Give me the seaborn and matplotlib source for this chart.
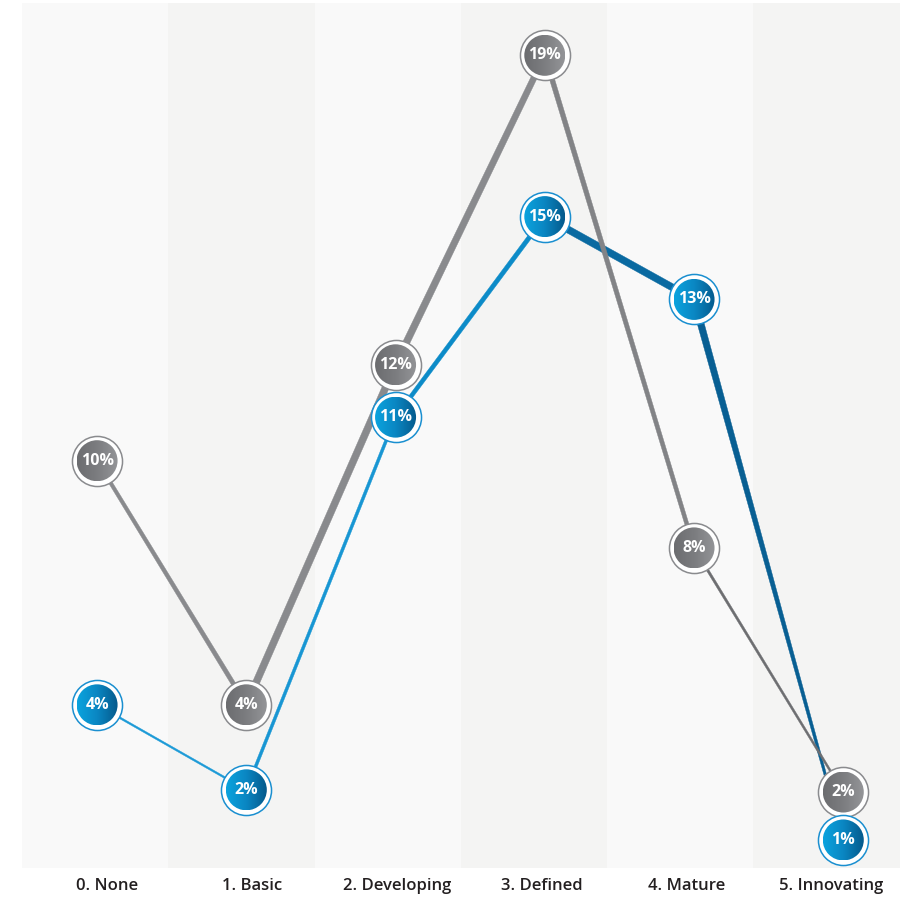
import numpy as np
import pandas as pd
import matplotlib
matplotlib.use("Agg")
import matplotlib.pyplot as plt
import seaborn as sns
from matplotlib.patches import Circle, Polygon
from matplotlib.transforms import IdentityTransform
from matplotlib.colors import LinearSegmentedColormap
from matplotlib import font_manager

# ---------------- data ----------------
categories = ["0. None", "1. Basic", "2. Developing", "3. Defined", "4. Mature", "5. Innovating"]
gray_values = [9.7, 4.1, 11.9, 19.0, 7.7, 2.1]
gray_labels = ["10%", "4%", "12%", "19%", "8%", "2%"]
blue_values = [4.1, 2.15, 10.7, 15.3, 13.4, 1.0]
blue_labels = ["4%", "2%", "11%", "15%", "13%", "1%"]

# ---------------- styles ----------------
gray_widths = [(3.5, 4.5), (7, 7), (7, 6), (5, 4), (2.5, 2)]
gray_colors = ["#898a8d", "#898a8d", "#898a8d", "#828386", "#6d6e71"]
blue_widths = [(1.8, 1.8), (3, 3), (4, 4.5), (7, 7), (7, 2)]
blue_colors = ["#1b9ad7", "#1896d3", "#0c8bc8", "#0a6aa1", "#085f93"]

sns.set_style("white")
plt.rcParams["font.family"] = ["Open Sans", "DejaVu Sans"]

names = {f.name for f in font_manager.fontManager.ttflist}
label_family = ["Liberation Sans Narrow"] if "Liberation Sans Narrow" in names else ["Open Sans"]
label_size = 13 if "Liberation Sans Narrow" in names else 11.5

W, H = 920, 899
fig = plt.figure(figsize=(W / 100, H / 100), dpi=100)
fig.patch.set_facecolor("white")
ax = fig.add_axes([22 / W, 31 / H, (900 - 22) / W, (868 - 3) / H])
ax.set_xlim(-0.503, 5.38)
ax.set_ylim(0.357, 20.2)
ax.set_autoscale_on(False)
for s in ax.spines.values():
    s.set_visible(False)
ax.set_yticks([])

# background bands
band_colors = ["#f9f9f9", "#f4f4f3"]
n = len(categories)
for i in range(n):
    ax.axvspan(-0.503 + 0.98 * i, -0.503 + 0.98 * (i + 1), color=band_colors[i % 2], lw=0, zorder=0)

ax.set_xticks([0.07 + 0.97 * i for i in range(n)])
ax.set_xticklabels(categories, fontsize=12, fontweight="semibold", color="#231f20")
ax.tick_params(axis="x", length=0, pad=7)

xs = np.arange(n)


def segment(p0, p1, w0, w1, color, z):
    a = ax.transData.transform(p0)
    b = ax.transData.transform(p1)
    d = b - a
    d = d / np.hypot(*d)
    nrm = np.array([-d[1], d[0]])
    verts = [a + nrm * w0 / 2, b + nrm * w1 / 2, b - nrm * w1 / 2, a - nrm * w0 / 2]
    ax.add_patch(Polygon(verts, closed=True, transform=IdentityTransform(),
                         facecolor=color, edgecolor=color, lw=0.3, zorder=z))


for i in range(n - 1):
    segment((xs[i], blue_values[i]), (xs[i + 1], blue_values[i + 1]),
            blue_widths[i][0], blue_widths[i][1], blue_colors[i], 2)
    segment((xs[i], gray_values[i]), (xs[i + 1], gray_values[i + 1]),
            gray_widths[i][0], gray_widths[i][1], gray_colors[i], 3)

gray_cmap = LinearSegmentedColormap.from_list("g", ["#6c6d70", "#7c7d80", "#949598"])
blue_cmap = LinearSegmentedColormap.from_list("b", ["#0ba3de", "#0a86c2", "#055a8c"])
grad = np.linspace(0, 1, 64)[None, :]

inv = ax.transData.inverted()


def markers(values, labels, ring, cmap, z):
    df = pd.DataFrame({"x": xs, "y": values})
    sns.scatterplot(data=df, x="x", y="y", s=1300, color="white", edgecolor=ring,
                    linewidth=1.1, ax=ax, zorder=z, legend=False)
    r = 20.5
    for x, y, lab in zip(xs, values, labels):
        cx, cy = ax.transData.transform((x, y))
        (x0, y0) = inv.transform((cx - r, cy - r))
        (x1, y1) = inv.transform((cx + r, cy + r))
        im = ax.imshow(grad, extent=[x0, x1, y0, y1], cmap=cmap, aspect="auto",
                       interpolation="bilinear", zorder=z + 0.1)
        im.set_clip_path(Circle((cx, cy), r, transform=IdentityTransform()))
        ax.text(x, y, lab, ha="center", va="center", color="white", fontsize=label_size,
                fontweight="bold", family=label_family, zorder=z + 0.2)


markers(gray_values, gray_labels, "#8a8b8e", gray_cmap, 4)
markers(blue_values, blue_labels, "#1a8fd0", blue_cmap, 6)

ax.set_xlim(-0.503, 5.38)
ax.set_ylim(0.357, 20.2)
ax.set_xlabel("")
ax.set_ylabel("")

fig.savefig("out.png", dpi=100)
